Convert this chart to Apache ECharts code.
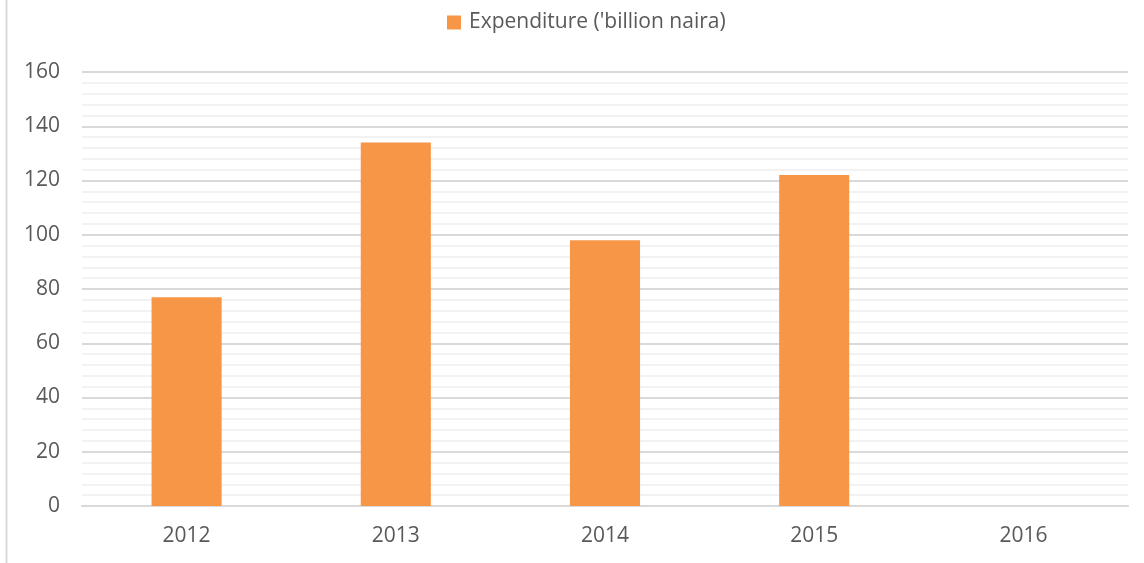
<!DOCTYPE html>
<html>
<head>
<meta charset="utf-8">
<script src="https://cdn.jsdelivr.net/npm/echarts@6/dist/echarts.min.js"></script>
<style>
html,body{margin:0;padding:0;background:#fff;}
#chart{width:1144px;height:563px;}
</style>
</head>
<body>
<div id="chart"></div>
<script>
const categories = ['2012', '2013', '2014', '2015', '2016'];
const expenditure = [77, 134, 98, 122, null];
const seriesName = "Expenditure ('billion naira)";
const yMin = 0, yMax = 160, yInterval = 20;

const chart = echarts.init(document.getElementById('chart'));
const font = '"Open Sans", "Liberation Sans", sans-serif';
chart.setOption({
  animation: false,
  textStyle: { fontFamily: font },
  graphic: [{
    type: 'line', shape: { x1: 6.5, y1: 0, x2: 6.5, y2: 563 },
    style: { stroke: '#d9d9d9', lineWidth: 2 }
  }],
  legend: {
    top: 7, left: 442,
    itemWidth: 14, itemHeight: 14, itemGap: 8,
    icon: 'rect',
    textStyle: { color: '#595959', fontSize: 21, fontFamily: font, padding: [0, 0, 0, 3] },
    data: [seriesName]
  },
  grid: { left: 82, right: 16, top: 72, bottom: 57, containLabel: false },
  xAxis: {
    type: 'category', data: categories,
    axisLine: { show: true, lineStyle: { color: '#d9d9d9', width: 2 } },
    axisTick: { show: false },
    axisLabel: { color: '#595959', fontSize: 21, margin: 20, fontFamily: font }
  },
  yAxis: {
    type: 'value', min: yMin, max: yMax, interval: yInterval,
    axisLine: { show: false }, axisTick: { show: false },
    axisLabel: { color: '#595959', fontSize: 21, margin: 22, fontFamily: font },
    splitLine: { lineStyle: { color: '#d9d9d9', width: 2 } },
    minorTick: { show: false, splitNumber: 5 },
    minorSplitLine: { show: true, lineStyle: { color: '#f2f2f2', width: 2 } }
  },
  series: [{
    name: seriesName, type: 'bar', data: expenditure,
    barWidth: '33.5%',
    itemStyle: { color: '#F79646' }
  }]
});
</script>
</body>
</html>
